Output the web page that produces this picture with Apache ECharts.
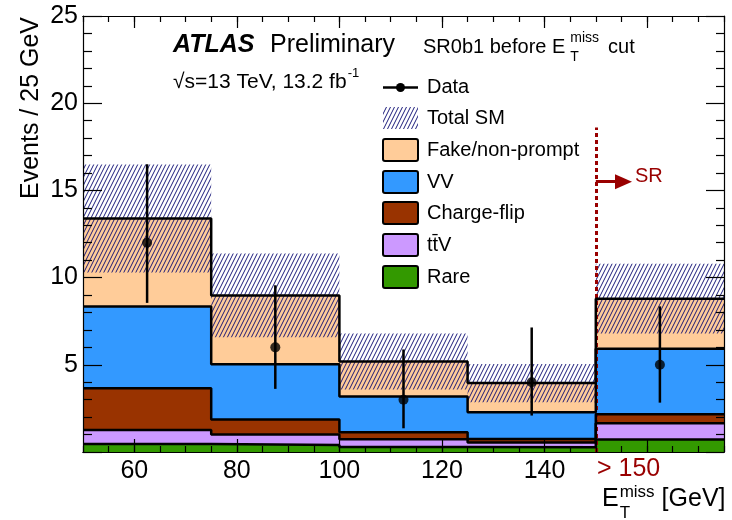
<!DOCTYPE html>
<html>
<head>
<meta charset="utf-8">
<title>SR0b1 MET</title>
<script src="https://cdn.jsdelivr.net/npm/echarts@6.0.0/dist/echarts.min.js"></script>
<style>
  html, body { margin: 0; padding: 0; background: #fff; }
  #chart { width: 732px; height: 520px; }
</style>
</head>
<body>
<div id="chart"></div>
<script type="text/javascript">
// bin edges (GeV), last bin is the overflow "> 150"
var edges = [50, 75, 100, 125, 150, 175];
var centers = [62.5, 87.5, 112.5, 137.5, 162.5];

// backgrounds, bottom to top of the stack
var rare = [0.46, 0.40, 0.28, 0.27, 0.72];
var ttv = [0.80, 0.60, 0.45, 0.28, 0.93];
var chargeFlip = [2.40, 0.86, 0.40, 0.20, 0.52];
var vv = [4.69, 3.17, 2.05, 1.53, 3.75];
var fake = [5.04, 3.95, 2.01, 1.67, 2.87];
var totalErr = [3.1, 2.4, 1.6, 1.1, 2.0];

// data with poisson error bars
var dataY = [12, 6, 3, 4, 5];
var dataLo = [8.55, 3.62, 1.36, 2.09, 2.83];
var dataHi = [16.5, 9.56, 5.88, 7.14, 8.35];

var xMajorTicks = [60, 80, 100, 120, 140, 160];
var xLabels = [60, 80, 100, 120, 140];
var srCut = 150;

var font = '"Liberation Sans", Arial, Helvetica, sans-serif';
var colors = {
  rare: '#339900', ttv: '#cc99ff', cf: '#993300', vv: '#3399ff', fake: '#ffcc99'
};

// hatch pattern for the SM uncertainty
function makeHatch() {
  var c = document.createElement('canvas');
  c.width = 4; c.height = 8;
  var g = c.getContext('2d');
  g.strokeStyle = '#101075';
  g.lineWidth = 0.95;
  for (var k = -1; k <= 1; k++) {
    g.beginPath();
    g.moveTo(-4 + 4 * k, 16);
    g.lineTo(8 + 4 * k, -8);
    g.stroke();
  }
  return c;
}
var hatch = { image: makeHatch(), repeat: 'repeat' };

// text width helper for placing super/subscripts
var mctx = document.createElement('canvas').getContext('2d');
function textW(str, f) {
  mctx.font = f;
  return mctx.measureText(str).width;
}

// cumulative stack
var comps = [
  { name: 'Rare', vals: rare, color: colors.rare },
  { name: 'ttV', vals: ttv, color: colors.ttv },
  { name: 'Charge-flip', vals: chargeFlip, color: colors.cf },
  { name: 'VV', vals: vv, color: colors.vv },
  { name: 'Fake/non-prompt', vals: fake, color: colors.fake }
];
var base = [0, 0, 0, 0, 0];
var series = [];

function rectItem(params, api) {
  var p0 = api.coord([api.value(0), api.value(3)]);
  var p1 = api.coord([api.value(1), api.value(2)]);
  var x0 = Math.round(p0[0]), x1 = Math.round(p1[0]);
  var y0 = Math.round(p0[1]), y1 = Math.round(p1[1]);
  return {
    type: 'rect',
    shape: { x: x0, y: y0, width: x1 - x0, height: y1 - y0 },
    style: { fill: api.visual('color') }
  };
}

comps.forEach(function (c) {
  var rows = [];
  var line = [];
  for (var i = 0; i < 5; i++) {
    var lo = base[i], hi = base[i] + c.vals[i];
    rows.push([edges[i], edges[i + 1], lo, hi]);
    line.push([edges[i], hi], [edges[i + 1], hi]);
    base[i] = hi;
  }
  series.push({
    type: 'custom', name: c.name, renderItem: rectItem,
    itemStyle: { color: c.color },
    encode: { x: [0, 1], y: [2, 3] },
    data: rows, z: 2, silent: true
  });
  series.push({
    type: 'line', data: line, symbol: 'none', z: 5, silent: true,
    lineStyle: { color: '#000', width: 2.5 }
  });
});

// total SM uncertainty band
var bandRows = [];
for (var i = 0; i < 5; i++) {
  bandRows.push([edges[i], edges[i + 1], base[i] - totalErr[i], base[i] + totalErr[i]]);
}
series.push({
  type: 'custom', name: 'Total SM', z: 4, silent: true,
  encode: { x: [0, 1], y: [2, 3] },
  data: bandRows,
  renderItem: function (params, api) {
    var p0 = api.coord([api.value(0), api.value(3)]);
    var p1 = api.coord([api.value(1), api.value(2)]);
    return {
      type: 'rect',
      shape: { x: p0[0], y: p0[1], width: p1[0] - p0[0], height: p1[1] - p0[1] },
      style: { fill: hatch }
    };
  }
});

// data error bars
var errRows = centers.map(function (x, i) { return [x, dataLo[i], dataHi[i]]; });
series.push({
  type: 'custom', name: 'Data err', z: 8, silent: true,
  encode: { x: 0, y: [1, 2] },
  data: errRows,
  renderItem: function (params, api) {
    var a = api.coord([api.value(0), api.value(1)]);
    var b = api.coord([api.value(0), api.value(2)]);
    return {
      type: 'line',
      shape: { x1: a[0], y1: a[1], x2: b[0], y2: b[1] },
      style: { stroke: '#000', lineWidth: 2.5 }
    };
  }
});
series.push({
  type: 'scatter', name: 'Data', z: 9, silent: true,
  symbol: 'circle', symbolSize: 10,
  itemStyle: { color: '#000' },
  data: centers.map(function (x, i) { return [x, dataY[i]]; })
});

// SR cut line and arrow
series.push({
  type: 'line', data: [], z: 10, silent: true,
  markLine: {
    silent: true, animation: false, symbol: 'none',
    label: { show: false },
    lineStyle: { color: '#990000', width: 3, type: [4, 3] },
    data: [[{ coord: [srCut, 0] }, { coord: [srCut, 18.6] }]]
  }
});
series.push({
  type: 'line', data: [], z: 10, silent: true,
  markLine: {
    silent: true, animation: false,
    symbol: ['none', 'triangle'], symbolSize: [15, 17],
    label: { show: false },
    lineStyle: { color: '#990000', width: 3, type: 'solid' },
    data: [[{ coord: [srCut, 15.5] }, { coord: [155.4, 15.5] }]]
  }
});

function xAxisDef(pos, ticks, len, labels) {
  var ax = {
    type: 'value', position: pos, min: 50, max: 175, z: 20,
    splitLine: { show: false },
    axisLine: { show: true, onZero: false, lineStyle: { color: '#000', width: 1.2 } },
    axisTick: { show: true, inside: true, length: len, lineStyle: { color: '#000', width: 1.2 } },
    axisLabel: { show: false }
  };
  if (ticks) {
    ax.axisTick.customValues = ticks;
  } else {
    ax.interval = 5;
  }
  if (labels) {
    ax.axisLabel = {
      show: true, customValues: labels, fontSize: 25, color: '#000',
      fontFamily: font, margin: 7
    };
  }
  return ax;
}

function yAxisDef(pos, len, minorLen, labels) {
  return {
    type: 'value', position: pos, min: 0, max: 25, interval: 5, z: 20,
    splitLine: { show: false },
    axisLine: { show: true, onZero: false, lineStyle: { color: '#000', width: 1.2 } },
    axisTick: { show: true, inside: true, length: len, lineStyle: { color: '#000', width: 1.2 } },
    minorTick: { show: true, splitNumber: 5, length: minorLen, lineStyle: { color: '#000', width: 1.2 } },
    minorSplitLine: { show: false },
    axisLabel: {
      show: labels, fontSize: 25, color: '#000', fontFamily: font, margin: 5,
      formatter: function (v) { return v === 0 ? '' : v; }
    }
  };
}

var chart = echarts.init(document.getElementById('chart'));

var legendRows = [
  { label: 'Fake/non-prompt', color: colors.fake, y: 150 },
  { label: 'VV', color: colors.vv, y: 182 },
  { label: 'Charge-flip', color: colors.cf, y: 213 },
  { label: 'tt\u0304V', color: colors.ttv, y: 245 },
  { label: 'Rare', color: colors.rare, y: 277 }
];

var f20 = '20px ' + font, f21 = '21px ' + font, f25 = '25px ' + font;
var f13 = '13px ' + font, f14 = '14px ' + font, f17 = '17px ' + font;
function txt(x, y, s, f, fill, extra) {
  var st = { text: s, font: f, fill: fill || '#000', verticalAlign: 'middle' };
  var el = { type: 'text', x: x, y: y, style: st };
  if (extra) { for (var k in extra) el[k] = extra[k]; }
  return el;
}

var lumiText = '\u221As=13 TeV, 13.2 fb';
var lumiEnd = 173 + textW(lumiText, f21);
var srText = 'SR0b1 before E';
var srEnd = 423 + textW(srText, f20);
var subW = textW('miss', f14);
var xtEnd = 602 + textW('E', f25);
var xtW = textW('miss', f17);

var graphics = [
  txt(173, 45, 'ATLAS', 'italic bold 25px ' + font),
  txt(270, 45, 'Preliminary', f25),
  txt(173, 82, lumiText, f21),
  txt(lumiEnd + 1, 73, '-1', f13),
  txt(423, 47, srText, f20),
  txt(srEnd + 5, 38, 'miss', f14),
  txt(srEnd + 5, 57, 'T', f14),
  txt(srEnd + 5 + subW + 9, 47, 'cut', f20),
  // legend: data and total SM
  { type: 'line', shape: { x1: 383, y1: 87.5, x2: 418, y2: 87.5 }, style: { stroke: '#000', lineWidth: 2.5 } },
  { type: 'circle', shape: { cx: 400.5, cy: 87.5, r: 4.5 }, style: { fill: '#000' } },
  txt(427, 87.5, 'Data', f20),
  { type: 'rect', shape: { x: 383, y: 107, width: 35, height: 22 }, style: { fill: hatch } },
  txt(427, 118, 'Total SM', f20),
  // axis titles
  txt(31, 17, 'Events / 25 GeV', f25, '#000', { rotation: Math.PI / 2 }),
  txt(602, 499, 'E', f25),
  txt(xtEnd + 1, 492, 'miss', f17),
  txt(xtEnd + 1, 513, 'T', f17),
  txt(xtEnd + 1 + xtW + 7, 499, '[GeV]', f25),
  // signal region annotations
  txt(597, 469, '> 150', f25, '#990000'),
  txt(635, 176, 'SR', f20, '#990000')
];
graphics[13].style.align = 'right';
legendRows.forEach(function (r) {
  graphics.push({ type: 'rect', shape: { x: 383, y: r.y - 11, width: 35, height: 22, r: 2 }, style: { fill: r.color, stroke: '#000', lineWidth: 2 } });
  graphics.push(txt(427, r.y, r.label, f20));
});

var option = {
  animation: false,
  backgroundColor: '#fff',
  grid: { left: 83, right: 8, top: 16, bottom: 68, containLabel: false },
  xAxis: [
    xAxisDef('bottom', xMajorTicks, 13, xLabels),
    xAxisDef('bottom', null, 6, null),
    xAxisDef('top', xMajorTicks, 12, null),
    xAxisDef('top', null, 6, null)
  ],
  yAxis: [
    yAxisDef('left', 19, 9, true),
    yAxisDef('right', 18, 8, false)
  ],
  series: series,
  graphic: graphics
};

chart.setOption(option);
</script>
</body>
</html>
